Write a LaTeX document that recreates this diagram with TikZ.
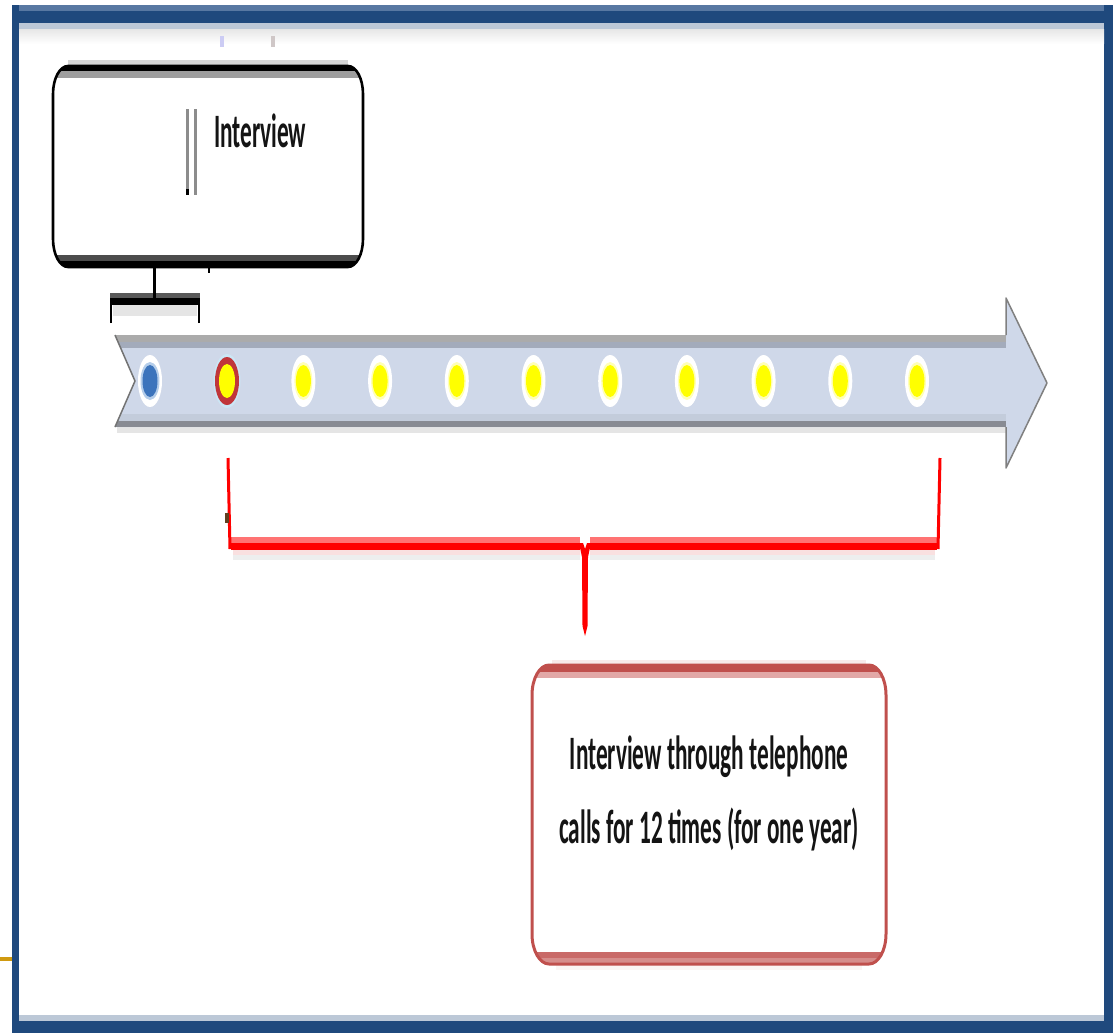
\documentclass[tikz,border=0pt]{standalone}
\usepackage{fontspec}
\setmainfont{Carlito}
\usetikzlibrary{shapes.geometric}

\definecolor{frameblue}{HTML}{1F497D}
\definecolor{framehi}{HTML}{5878A2}
\definecolor{framesoft}{HTML}{BCC8D7}
\definecolor{barfill}{HTML}{CFD8E9}
\definecolor{bartop}{HTML}{ABABAB}
\definecolor{bartopin}{HTML}{A3ABBB}
\definecolor{barlow}{HTML}{C3CCDB}
\definecolor{barbot}{HTML}{888B93}
\definecolor{boxred}{HTML}{C0504D}
\definecolor{boxredlt}{HTML}{E2A8A7}
\definecolor{callred}{HTML}{FF0000}
\definecolor{callredlt}{HTML}{FF7373}
\definecolor{dotblue}{HTML}{3C74BC}
\definecolor{dotbluelt}{HTML}{B4CDEA}
\definecolor{dotring}{HTML}{C0363A}
\definecolor{dotsky}{HTML}{CBE6F5}
\definecolor{dotyellow}{HTML}{FFFF00}
\definecolor{dotyellowlt}{HTML}{FFFFB8}
\definecolor{goldmark}{HTML}{D09A10}

% rounded frame with elliptical corners: options, left, top, right, bottom, rx, ry
\newcommand\softrect[7]{%
  \path[#1] ({#2+#6},#3) -- ({#4-#6},#3)
    .. controls ({#4-0.45*#6},#3) and (#4,{#3+0.45*#7}) .. (#4,{#3+#7})
    -- (#4,{#5-#7})
    .. controls (#4,{#5-0.45*#7}) and ({#4-0.45*#6},#5) .. ({#4-#6},#5)
    -- ({#2+#6},#5)
    .. controls ({#2+0.45*#6},#5) and (#2,{#5-0.45*#7}) .. (#2,{#5-#7})
    -- (#2,{#3+#7})
    .. controls (#2,{#3+0.45*#7}) and ({#2+0.45*#6},#3) .. cycle;}

\tikzset{
  lbl/.style={font=\fontsize{48}{74}\selectfont\bfseries, xscale=0.485, inner sep=0pt, text=black!92},
  holder/.style={inner sep=0pt, outer sep=0pt},
  halo/.style={ellipse, inner sep=0pt, fill=white, minimum width=24pt, minimum height=52pt},
  ylfringe/.style={ellipse, inner sep=0pt, fill=dotyellowlt, minimum width=18pt, minimum height=38pt},
  ylcore/.style={ellipse, inner sep=0pt, fill=dotyellow, minimum width=15pt, minimum height=32pt},
}

\begin{document}
\begin{tikzpicture}[x=1pt,y=-1pt]
\useasboundingbox (0,0) rectangle (1113,1033);
\fill[white] (0,0) rectangle (1113,1033);

% window frame
\fill[framehi] (12,5) rectangle (1113,11);
\fill[frameblue] (12,11) rectangle (1113,23);
\fill[frameblue] (12,5) rectangle (19,1033);
\fill[frameblue] (1104,5) rectangle (1113,1033);
\fill[frameblue] (12,1021) rectangle (1113,1033);
\fill[framesoft] (19,23) rectangle (1104,30);
\fill[framesoft] (19,1015) rectangle (1104,1021);
\shade[top color=black!9, bottom color=white] (19,30) rectangle (1104,44);
\fill[goldmark] (0,957) rectangle (12,961);
\fill[black!22!blue!20] (220,36) rectangle (224,47);
\fill[red!15!black!22] (271,36) rectangle (275,47);

% first interview box
\node[holder, minimum width=310pt, minimum height=201pt] (ivbox) at (208,166.5) {};
\fill[black!16] (68,60) rectangle (348,66);
\softrect{fill=white}{53}{66}{363}{267}{15}{28}
\begin{scope}
  \softrect{clip}{53}{66}{363}{267}{15}{28}
  \fill[black] (40,60) rectangle (380,71);
  \fill[black!38] (40,71) rectangle (380,78);
  \fill[black!70] (40,255) rectangle (380,261);
  \fill[black] (40,261) rectangle (380,270);
\end{scope}
\softrect{draw=black, line width=2.6pt}{53}{66}{363}{267}{15}{28}
\fill[black!45] (186,109) rectangle (189,195);
\fill[black!45] (194,109) rectangle (197,195);
\fill[black] (186,189) rectangle (189,195);
\node[lbl, anchor=base west] (ivtext) at (214,147) {Interview};

% black bracket under the first box
\coordinate (bkstem) at (154,267);
\coordinate (bkmid) at (154,298);
\coordinate (bkL) at (111,323);
\coordinate (bkR) at (199,323);
\fill[black!10] (113,305) rectangle (197,316);
\fill[black!65] (110,293) rectangle (200,298);
\fill[black] (110,298) rectangle (200,305);
\draw[line width=2.6pt] (bkL) -- (bkL |- bkmid);
\draw[line width=2.6pt] (bkR) -- (bkR |- bkmid);
\draw[line width=3pt] (bkstem) -- (bkmid);
\draw[line width=2pt] (209,267) -- (209,273);

% timeline arrow
\coordinate (arrowtip) at (1047,383);
\fill[black!10] (117,427) rectangle (1006,433);
\fill[barfill] (115,335) -- (1006,335) -- (1006,298) -- (arrowtip) -- (1006,468)
  -- (1006,427) -- (115,427) -- (135,381) -- cycle;
\begin{scope}
  \clip (115,335) -- (1006,335) -- (1006,427) -- (115,427) -- (135,381) -- cycle;
  \fill[bartop] (100,335) rectangle (1006,342);
  \fill[bartopin] (100,342) rectangle (1006,348);
  \fill[barlow] (100,414) rectangle (1006,421);
  \fill[barbot] (100,421) rectangle (1006,427);
\end{scope}
\draw[black!50, line width=1.5pt, line join=round]
  (1006,335) -- (1006,298) -- (arrowtip) -- (1006,468) -- (1006,427);
\draw[black!55, line width=1.5pt] (115,335) -- (135,381) -- (115,427);

% time points
\node[halo] (dot0) at (150,381) {};
\node[ellipse, inner sep=0pt, fill=dotbluelt, minimum width=19pt, minimum height=38pt] (ring0) at (dot0) {};
\node[ellipse, inner sep=0pt, fill=dotblue, minimum width=15pt, minimum height=32pt] (core0) at (dot0) {};
\node[halo, fill=dotsky, minimum width=27pt, minimum height=54pt] (dot1) at (227,381) {};
\node[ellipse, inner sep=0pt, fill=dotring, minimum width=24pt, minimum height=48pt] (ring1) at (dot1) {};
\node[ellipse, inner sep=0pt, fill=dotyellow, minimum width=16pt, minimum height=34pt] (core1) at (dot1) {};
\foreach \i in {2,...,10} {
  \node[halo] (dot\i) at ({150+76.7*\i},381) {};
  \node[ylfringe] (ring\i) at (dot\i) {};
  \node[ylcore] (core\i) at (dot\i) {};
}

% red bracket spanning the telephone interviews
\coordinate (rbL) at (228,458);
\coordinate (rbR) at (940,458);
\coordinate (rbtip) at (585,636);
\fill[black!20!red!12] (233,550) rectangle (580,555);
\fill[black!20!red!12] (590,550) rectangle (935,555);
\fill[cyan!5!black!8] (233,555) rectangle (580,560);
\fill[cyan!5!black!8] (590,555) rectangle (935,560);
\fill[callredlt] (231,537) rectangle (580,543);
\fill[callredlt] (590,537) rectangle (937,543);
\fill[callred] (231,543) rectangle (580,550);
\fill[callred] (590,543) rectangle (937,550);
\draw[callred, line width=3pt] (rbL) -- (230,549);
\draw[callred, line width=3pt] (rbR) -- (938,549);
\fill[callred] (579,543) -- (583,543) -- (585,549) -- (587,543) -- (591,543)
  -- (588,557) -- (587.5,626) -- (rbtip) -- (582.5,626) -- (582,557) -- cycle;
\fill[black!50!brown] (225,513) rectangle (229,523);

% telephone interview box
\node[holder, minimum width=354pt, minimum height=299pt] (telbox) at (709,814.5) {};
\fill[boxred!12] (552,660) rectangle (866,665);
\fill[boxred!6] (556,965) rectangle (862,970);
\softrect{fill=white}{532}{665}{886}{964}{17}{30}
\begin{scope}
  \softrect{clip}{532}{665}{886}{964}{17}{30}
  \fill[boxred] (520,660) rectangle (900,672);
  \fill[boxredlt] (520,672) rectangle (900,678);
  \fill[boxred!85] (520,952) rectangle (900,958);
  \fill[boxred!65] (520,958) rectangle (900,970);
\end{scope}
\softrect{draw=boxred, line width=3pt}{532}{665}{886}{964}{17}{30}
\node[lbl, align=center] (teltext) at (709,793)
  {Interview through telephone\\calls for 12 times (for one year)};
\end{tikzpicture}
\end{document}
